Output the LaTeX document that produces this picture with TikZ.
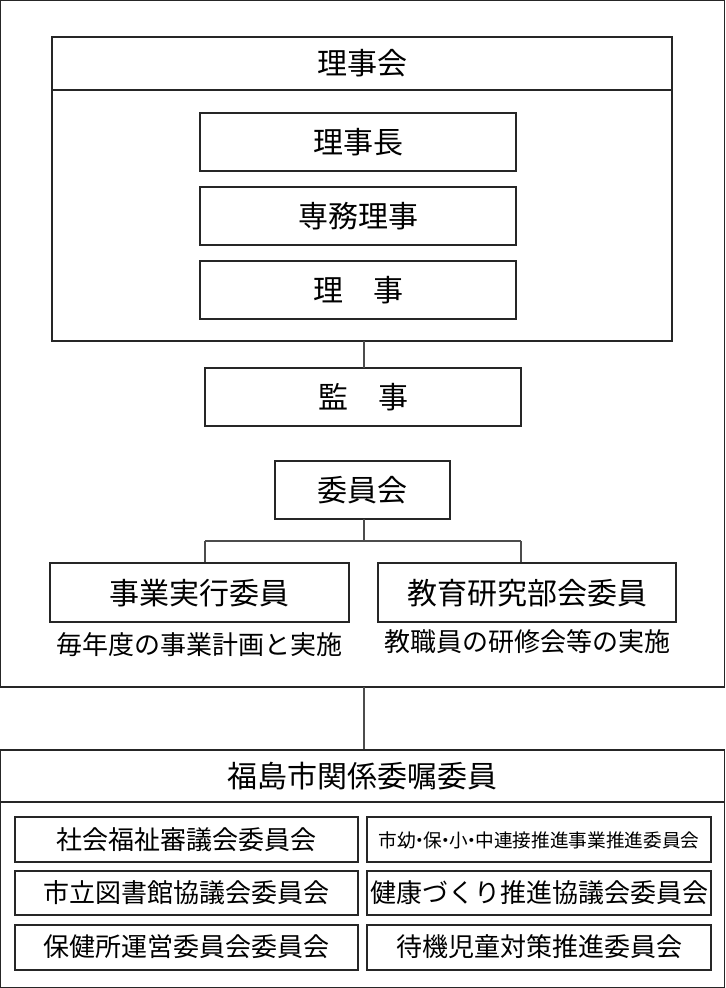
\documentclass[tikz,border=0pt]{standalone}
\usepackage{fontspec}
\setmainfont{Noto Sans CJK JP}
\begin{document}
\begin{tikzpicture}[x=0.75pt,y=-0.75pt,
  bx/.style={draw=black!85,line width=0.8pt},
  ln/.style={draw=black!70,line width=0.8pt},
  big/.style={font=\fontsize{22.5}{24}\selectfont},
  mid/.style={font=\fontsize{19.5}{22}\selectfont},
  sml/.style={font=\fontsize{14}{16}\selectfont},
  t/.style={inner sep=0pt,anchor=center}]
\useasboundingbox (0,0) rectangle (725,988);
% outer top
\draw[bx] (0.5,0.5) rectangle (724.5,687);
\draw[bx] (52,37) rectangle (672,341);
\draw[bx] (52,90) -- (672,90);
\node[t,big] (rjk) at (362,63) {理事会};
\draw[bx] (200,113) rectangle (516,171); \node[t,big] (a1) at (358,142) {理事長};
\draw[bx] (200,187) rectangle (516,245); \node[t,big] (a2) at (358,216) {専務理事};
\draw[bx] (200,261) rectangle (516,319); \node[t,big] (a3) at (358,290) {理\hspace{1em}事};
\coordinate (rb) at (364,341);
\draw[bx] (205,368) rectangle (521,426); \node[t,big] (kj) at (363,397) {監\hspace{1em}事};
\coordinate (kt) at (364,368);
\draw[ln] (rb) -- (kt);
\draw[bx] (275,461) rectangle (450,519); \node[t,big] (iin) at (362,490) {委員会};
\coordinate (ib) at (364,519);
\coordinate (j) at (364,541);
\coordinate (jl) at (205,541);
\coordinate (jr) at (521,541);
\coordinate (lt) at (205,563);
\coordinate (rt) at (521,563);
\draw[ln] (ib) -- (j) (jl) -- (jr) (jl) -- (lt) (jr) -- (rt);
\draw[bx] (50,563) rectangle (349,622); \node[t,big] (l1) at (199,593) {事業実行委員};
\draw[bx] (378,563) rectangle (676,622); \node[t,big] (r1) at (527,593) {教育研究部会委員};
\node[t,mid] (l2) at (199,645) {毎年度の事業計画と実施};
\node[t,mid] (r2) at (527,642) {教職員の研修会等の実施};
% connector
\coordinate (ob) at (364,687);
\coordinate (bt) at (364,750);
\draw[ln] (ob) -- (bt);
% bottom
\draw[bx] (0.5,750) rectangle (724.5,987.5);
\draw[bx] (0.5,802) -- (724.5,802);
\node[t,big] (fk) at (362,776) {福島市関係委嘱委員};
\draw[bx] (15,817) rectangle (358,862); \node[t,mid] (b1) at (186,840) {社会福祉審議会委員会};
\draw[bx] (15,871) rectangle (358,915); \node[t,mid] (b2) at (186,893) {市立図書館協議会委員会};
\draw[bx] (15,925) rectangle (358,970); \node[t,mid] (b3) at (186,947) {保健所運営委員会委員会};
\draw[bx] (367,817) rectangle (711,862); \node[t,sml] (c1) at (539,840) {市幼\hspace{-0.3em}・\hspace{-0.3em}保\hspace{-0.3em}・\hspace{-0.3em}小\hspace{-0.3em}・\hspace{-0.3em}中連接推進事業推進委員会};
\draw[bx] (367,871) rectangle (711,915); \node[t,mid] (c2) at (539,893) {健康づくり推進協議会委員会};
\draw[bx] (367,925) rectangle (711,970); \node[t,mid] (c3) at (539,947) {待機児童対策推進委員会};
\end{tikzpicture}
\end{document}
